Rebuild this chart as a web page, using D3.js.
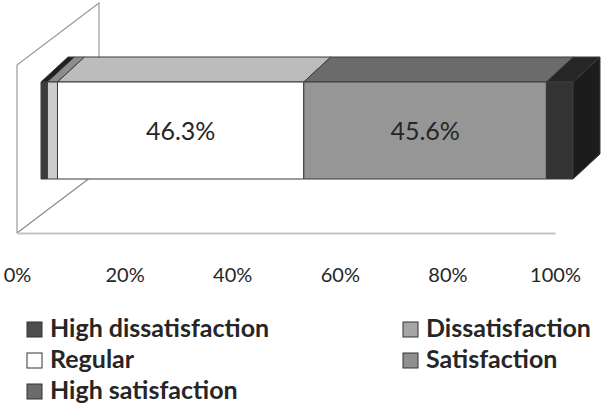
<!DOCTYPE html>
<html>
<head>
<meta charset="utf-8">
<script src="https://cdn.jsdelivr.net/npm/d3@7"></script>
<style>
  html, body { margin: 0; padding: 0; background: #fff; }
  svg { display: block; }
  text { font-family: Lato, "Open Sans", sans-serif; fill: #262626; }
</style>
</head>
<body>
<svg id="chart" width="605" height="405"></svg>
<script>
// Satisfaction levels, shares in percent (one stacked bar)
const categories = ["High dissatisfaction", "Dissatisfaction", "Regular", "Satisfaction", "High satisfaction"];
const values = [1.2, 1.9, 46.3, 45.6, 5.0];
const tickValues = [0, 20, 40, 60, 80, 100];

// Face shading per segment
const frontColors = ["#3c3c3c", "#cdcdcd", "#ffffff", "#969696", "#333333"];
const topColors = ["#1f1f1f", "#8c8c8c", "#bcbcbc", "#6b6b6b", "#262626"];
const sideColor = "#1c1c1c";
const legendColors = ["#4d4d4d", "#a6a6a6", "#ffffff", "#8f8f8f", "#6b6b6b"];

const svg = d3.select("#chart");

// Geometry of the oblique 3D view
const floorY = 233;
const wallDepth = { dx: 82, dy: -62 };
const barDepth = { dx: 27, dy: -25 };
const barTop = 82, barBottom = 179;

const xFloor = d3.scaleLinear().domain([0, 100]).range([17, 555]);
const xBar = d3.scaleLinear().domain([0, 100]).range([41, 573]);

// Side wall and floor
const wall = svg.append("g").attr("fill", "none").attr("stroke", "#9a9a9a").attr("stroke-width", 1.2);
const wx = xFloor(0), wTop = 65;
wall.append("path").attr("d", `M${wx},${floorY} L${wx},${wTop} L${wx + wallDepth.dx},${wTop + wallDepth.dy} L${wx + wallDepth.dx},${barTop + barDepth.dy}`);
const floorBackLen = (barBottom - floorY) / wallDepth.dy; // fraction of depth visible below bar
wall.append("path").attr("stroke", "#8a8a8a")
  .attr("d", `M${wx},${floorY} L${wx + wallDepth.dx * floorBackLen},${barBottom}`);

// Value axis along the front edge of the floor
const axis = d3.axisBottom(xFloor).tickValues(tickValues).tickFormat(d => d + "%").tickSize(0);
const ag = svg.append("g").attr("transform", `translate(0,${floorY})`).call(axis);
ag.select(".domain").attr("stroke", "#c4c4c4").attr("stroke-width", 2.2);
ag.selectAll("text").attr("y", 49).attr("dy", 0)
  .style("font-family", "Lato, sans-serif").style("font-size", "20px").attr("fill", "#333");

// Stacked segments
const ends = Array.from(d3.cumsum(values));
const segs = values.map((v, i) => ({ i, name: categories[i], v, x0: ends[i] - v, x1: ends[i] }));
const bar = svg.append("g").attr("stroke", "#3a3a3a").attr("stroke-width", 1).attr("stroke-linejoin", "round");

// top faces
bar.selectAll("path.top").data(segs).join("path").attr("class", "top")
  .attr("fill", d => topColors[d.i])
  .attr("d", d => {
    const a = xBar(d.x0), b = xBar(d.x1);
    return `M${a},${barTop} L${b},${barTop} L${b + barDepth.dx},${barTop + barDepth.dy} L${a + barDepth.dx},${barTop + barDepth.dy}Z`;
  });

// front faces
bar.selectAll("rect.front").data(segs).join("rect").attr("class", "front")
  .attr("fill", d => frontColors[d.i])
  .attr("x", d => xBar(d.x0)).attr("y", barTop)
  .attr("width", d => xBar(d.x1) - xBar(d.x0)).attr("height", barBottom - barTop);

// right end face
const last = segs[segs.length - 1];
const rx = xBar(last.x1);
bar.append("path").attr("fill", sideColor)
  .attr("d", `M${rx},${barTop} L${rx + barDepth.dx},${barTop + barDepth.dy} L${rx + barDepth.dx},${barBottom + barDepth.dy} L${rx},${barBottom}Z`);

// value labels on the large segments
svg.selectAll("text.val").data(segs.filter(d => d.v > 10)).join("text").attr("class", "val")
  .attr("x", d => xBar((d.x0 + d.x1) / 2)).attr("y", 140)
  .attr("text-anchor", "middle").style("font-size", "25px")
  .text(d => d.v.toFixed(1) + "%");

// Legend
const legendPos = [[27, 322], [403, 322], [27, 353], [403, 353], [27, 384]];
const lg = svg.selectAll("g.leg").data(segs).join("g").attr("class", "leg")
  .attr("transform", d => `translate(${legendPos[d.i][0]},${legendPos[d.i][1]})`);
lg.append("rect").attr("width", 15).attr("height", 15)
  .attr("fill", d => legendColors[d.i]).attr("stroke", "#333").attr("stroke-width", 1);
lg.append("text").attr("x", 23).attr("y", 15)
  .style("font-size", "25px").style("font-weight", "bold").text(d => d.name);
</script>
</body>
</html>
